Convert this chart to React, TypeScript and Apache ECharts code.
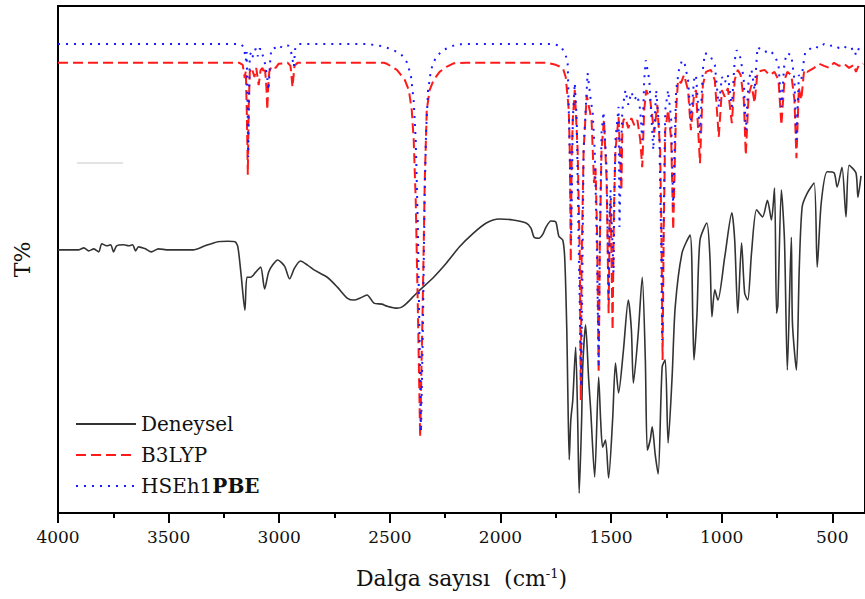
import React, { useEffect, useRef } from "react";
import * as echarts from "echarts";

// x: wavenumber (cm-1), y: transmittance (arbitrary T% scale, 0 = bottom axis, 100 = top frame)
const majorTicks = [4000, 3500, 3000, 2500, 2000, 1500, 1000, 500];
const minorTicks = [3750, 3250, 2750, 2250, 1750, 1250, 750];
const seriesNames = ["Deneysel", "B3LYP", "HSEh1PBE"];

const deneysel: [number, number][] = [
  [4000, 51.9], [3906, 51.9], [3883, 52.3], [3861, 51.7], [3838, 52.1], [3816, 51.5], [3802, 53.1], [3780, 52.7],
  [3762, 52.9], [3749, 51.5], [3735, 52.7], [3703, 52.9], [3681, 52.7], [3663, 52.9], [3649, 51.7], [3636, 52.5],
  [3605, 52.1], [3578, 51.5], [3546, 52.1], [3501, 51.9], [3434, 51.9], [3389, 51.9], [3335, 52.7], [3277, 53.5],
  [3232, 53.6], [3200, 53.5], [3187, 52.5], [3173, 47.3], [3155, 40.0], [3146, 46.5], [3129, 46.5], [3106, 47.5],
  [3084, 48.5], [3066, 44.2], [3048, 47.5], [3030, 48.9], [3007, 49.9], [2976, 48.7], [2953, 46.2], [2931, 48.3],
  [2904, 49.7], [2872, 48.9], [2841, 47.9], [2783, 46.5], [2738, 44.6], [2693, 42.4], [2661, 42.0], [2634, 42.4],
  [2603, 43.0], [2572, 41.4], [2536, 41.2], [2513, 40.8], [2468, 40.4], [2446, 40.6], [2423, 41.4], [2378, 43.4],
  [2302, 46.5], [2244, 49.3], [2185, 52.5], [2122, 55.2], [2064, 57.2], [2006, 58.0], [1943, 57.8], [1884, 57.2],
  [1862, 56.2], [1848, 54.4], [1826, 54.2], [1808, 55.0], [1794, 56.4], [1772, 57.6], [1750, 57.4], [1736, 54.6],
  [1718, 53.8], [1709, 49.9], [1700, 36.1], [1696, 25.6], [1689, 10.5], [1682, 18.3], [1673, 22.3], [1660, 32.7],
  [1651, 18.9], [1644, 3.9], [1633, 18.3], [1628, 28.8], [1615, 37.1], [1601, 26.2], [1592, 20.3], [1574, 7.1],
  [1556, 26.8], [1547, 18.3], [1538, 13.0], [1525, 14.4], [1511, 6.9], [1493, 18.3], [1480, 29.6], [1466, 23.7],
  [1444, 32.1], [1422, 42.0], [1408, 36.1], [1399, 25.6], [1377, 35.5], [1359, 46.5], [1345, 30.2], [1336, 12.4],
  [1323, 14.4], [1314, 17.0], [1300, 11.4], [1287, 7.7], [1269, 28.8], [1255, 30.2], [1242, 13.8], [1224, 26.8],
  [1210, 40.6], [1179, 51.3], [1143, 54.8], [1130, 37.5], [1125, 30.2], [1112, 38.7], [1098, 53.8], [1067, 57.2],
  [1053, 50.5], [1044, 38.7], [1031, 44.0], [1017, 42.0], [986, 50.5], [954, 59.2], [941, 53.8], [927, 39.4],
  [910, 53.3], [896, 43.4], [882, 42.0], [865, 51.3], [842, 59.8], [815, 58.4], [793, 61.7], [775, 57.8],
  [761, 64.1], [752, 39.4], [746, 41.0], [730, 63.7], [716, 53.8], [703, 28.2], [685, 54.4], [680, 37.5],
  [662, 28.2], [649, 48.5], [636, 60.4], [613, 63.1], [582, 65.1], [568, 48.5], [550, 61.1], [523, 67.3],
  [492, 67.1], [478, 64.3], [456, 68.2], [438, 58.4], [424, 68.6], [393, 67.1], [384, 62.3], [370, 66.5],
];

const b3lyp: [number, number][] = [
  [4000, 88.8], [3180, 88.8], [3165, 88.4], [3156, 85.8], [3151, 87.2], [3146, 78], [3142, 66.7], [3138, 80],
  [3133, 87.0], [3124, 87.8], [3112, 86.0], [3104, 87.8], [3093, 84.4], [3084, 87.4], [3075, 87.8], [3070, 86.6],
  [3064, 87.4], [3058, 84], [3054, 79.5], [3050, 84], [3045, 87.0], [3034, 88.2], [3016, 87.8], [3003, 88.6],
  [2962, 88.8], [2949, 88.2], [2940, 84.0], [2931, 88.2], [2917, 88.8],
  [2527, 88.8], [2513, 88.6], [2468, 87.4], [2432, 85.4], [2414, 83.4], [2401, 79.5], [2392, 73.6], [2383, 61.7],
  [2374, 42.0], [2363, 15.0], [2351, 42.0], [2342, 65.7], [2333, 79.5], [2320, 83.4], [2302, 85.4], [2275, 87.0],
  [2244, 88.0], [2212, 88.7], [2154, 88.8],
  [1790, 88.8], [1750, 88.4], [1718, 87.8], [1705, 86.0], [1691, 79.5], [1686, 70], [1682, 49.5], [1678, 70],
  [1673, 77.5], [1664, 83.4], [1651, 71.6], [1641, 50], [1637, 22.3], [1633, 50], [1624, 71.6], [1610, 82.4],
  [1588, 77.5], [1577, 65.1], [1570, 68.0], [1563, 55], [1556, 27.6], [1550, 55], [1543, 71.6], [1532, 77.5],
  [1520, 65.7], [1511, 39.4], [1506, 58], [1502, 61.7], [1493, 36.1], [1487, 60], [1480, 71.6], [1466, 78.1],
  [1453, 63.7], [1449, 75.5], [1444, 77.5], [1435, 77.9], [1422, 75.9], [1408, 77.9], [1395, 76.5], [1381, 77.5],
  [1368, 73.6], [1359, 68.2], [1350, 79.5], [1341, 83.4], [1323, 81.5], [1305, 75.0], [1291, 80.5], [1278, 71.6],
  [1272, 55], [1267, 30.2], [1262, 55], [1255, 75.5], [1242, 79.5], [1228, 73.6], [1219, 55.8], [1206, 79.5],
  [1197, 85.4], [1184, 84.8], [1170, 86.4], [1152, 83.4], [1139, 75.5], [1125, 82.4], [1116, 83.4], [1098, 69.0],
  [1085, 84.4], [1071, 87.0], [1049, 87.4], [1031, 85.4], [1013, 74.2], [999, 83.4], [986, 82.1], [972, 83.8],
  [954, 76.9], [941, 85.4], [927, 87.4], [914, 86.4], [900, 81.5], [891, 70.6], [878, 82.4], [865, 84.4],
  [851, 80.9], [838, 87.0], [806, 87.4], [784, 86.4], [761, 87.0], [743, 85.4], [730, 76.5], [716, 85.4],
  [703, 87.0], [685, 86.4], [671, 81.5], [662, 70.0], [651, 83.8], [640, 81.5], [627, 87.4], [613, 87.0],
  [582, 87.8], [559, 88.6], [537, 88.2], [514, 87.8], [492, 88.8], [469, 88.2], [447, 88.6], [424, 87.8],
  [402, 88.4], [393, 87.0], [379, 88.4], [360, 88.6],
];

const hseh1pbe: [number, number][] = [
  [4000, 92.5], [3175, 92.5], [3160, 91.9], [3151, 89.3], [3147, 90.9], [3143, 80], [3140, 70.2], [3137, 80],
  [3133, 90.3], [3126, 90.9], [3120, 89.9], [3115, 91.3], [3105, 91.5], [3097, 90.1], [3090, 91.5], [3080, 91.5],
  [3075, 90.3], [3068, 89.5], [3056, 86.5], [3048, 83.4], [3042, 88.5], [3036, 91.5], [3000, 92.0], [2994, 91.7],
  [2988, 92.2], [2960, 92.2], [2948, 91.3], [2940, 89.5], [2934, 88.0], [2928, 91.5], [2915, 92.5],
  [2603, 92.5], [2536, 92.1], [2482, 91.3], [2446, 90.3], [2423, 88.9], [2405, 86.4], [2392, 81.2], [2383, 73.6],
  [2374, 57.8], [2367, 38.1], [2359, 16.0], [2350, 38.1], [2343, 61.7], [2336, 75.5], [2327, 83.4], [2314, 87.4],
  [2292, 89.9], [2260, 91.3], [2200, 92.4], [2150, 92.5],
  [1760, 92.5], [1727, 92.1], [1705, 90.3], [1696, 88.8], [1687, 71.6], [1680, 53.8], [1675, 70], [1673, 77.5],
  [1664, 84.8], [1655, 77.5], [1646, 51.9], [1641, 40], [1635, 24.9], [1630, 45], [1624, 71.6], [1606, 86.8],
  [1592, 81.5], [1583, 79.0], [1574, 71.6], [1565, 55], [1556, 28.8], [1550, 55], [1543, 75.0], [1534, 79.1],
  [1520, 68.0], [1511, 42.0], [1506, 60], [1502, 63.7], [1489, 47.3], [1484, 65], [1480, 73.6], [1466, 80.1],
  [1462, 56.4], [1453, 74], [1449, 79.5], [1435, 83.4], [1422, 80.5], [1408, 83.0], [1395, 81.5], [1381, 82.4],
  [1368, 79.5], [1359, 73.6], [1350, 85.4], [1343, 89.3], [1327, 85.4], [1309, 71.6], [1296, 83.4], [1282, 75.5],
  [1274, 55], [1269, 34.1], [1263, 55], [1255, 79.5], [1242, 83.4], [1228, 77.5], [1219, 60.4], [1206, 83.4],
  [1193, 87.4], [1179, 89.3], [1166, 88.4], [1152, 85.4], [1139, 77.5], [1125, 85.4], [1116, 86.4], [1098, 75.0],
  [1085, 87.4], [1076, 90.7], [1053, 90.3], [1031, 88.4], [1013, 80.1], [999, 86.0], [986, 84.8], [972, 86.4],
  [954, 80.1], [941, 89.3], [932, 91.3], [914, 89.7], [900, 85.4], [891, 75.5], [878, 85.4], [865, 87.4],
  [851, 83.4], [838, 91.9], [806, 90.9], [784, 91.3], [761, 90.3], [743, 88.4], [730, 80.1], [716, 89.0],
  [703, 90.7], [685, 90.3], [671, 85.4], [662, 73.6], [651, 86.4], [640, 85.4], [627, 89.7], [622, 90.9],
  [582, 92.1], [559, 91.7], [537, 92.5], [514, 92.1], [492, 92.3], [469, 91.7], [447, 92.1], [424, 91.3],
  [402, 91.7], [393, 90.3], [379, 91.7], [360, 92.0],
];

const serif = "DejaVu Serif";

export default function App() {
  const ref = useRef<HTMLDivElement>(null);
  useEffect(() => {
    if (!ref.current) return;
    const chart = echarts.init(ref.current, null, { renderer: "svg" });
    const axisLineStyle = { color: "#000", width: 2 };
    chart.setOption({
      animation: false,
      backgroundColor: "#fff",
      textStyle: { fontFamily: serif },
      grid: { left: 58, width: 813, top: 6, bottom: 86, show: true, borderColor: "#000", borderWidth: 2, backgroundColor: "transparent" },
      legend: {
        orient: "vertical",
        left: 70,
        top: 409,
        itemWidth: 60,
        itemHeight: 24,
        itemGap: 11,
        data: seriesNames,
        itemStyle: { opacity: 0, borderWidth: 0 },
        formatter: (name: string) => (name === "HSEh1PBE" ? "{r|HSEh1}{b|PBE}" : name),
        textStyle: {
          fontFamily: serif,
          fontSize: 20,
          color: "#111",
          rich: {
            r: { fontFamily: serif, fontSize: 20, color: "#111" },
            b: { fontFamily: serif, fontSize: 20, color: "#111", fontWeight: "bold" },
          },
        },
      },
      xAxis: [
        {
          type: "value",
          min: 352,
          max: 4000,
          inverse: true,
          position: "bottom",
          offset: 0,
          axisLine: { show: true, lineStyle: axisLineStyle },
          axisTick: { show: true, inside: false, length: 10, lineStyle: axisLineStyle, customValues: majorTicks },
          axisLabel: {
            show: true,
            customValues: majorTicks,
            formatter: (v: number) => String(v),
            fontFamily: serif,
            fontSize: 17,
            color: "#111",
            margin: 15,
          },
          splitLine: { show: false },
          name: "{a|Dalga sayısı  (cm}{s|-1}{a|)}",
          nameLocation: "middle",
          nameGap: 54,
          nameTextStyle: {
            fontFamily: serif,
            rich: {
              a: { fontFamily: serif, fontSize: 22, color: "#111" },
              s: { fontFamily: serif, fontSize: 13, color: "#111", verticalAlign: "top" },
            },
          },
        },
        {
          type: "value",
          min: 352,
          max: 4000,
          inverse: true,
          position: "bottom",
          offset: 0,
          axisLine: { show: false },
          axisTick: { show: true, inside: false, length: 5, lineStyle: axisLineStyle, customValues: minorTicks },
          axisLabel: { show: false },
          splitLine: { show: false },
        },
      ],
      yAxis: {
        type: "value",
        min: 0,
        max: 100,
        axisLine: { show: true, lineStyle: axisLineStyle },
        axisTick: { show: false },
        axisLabel: { show: false },
        splitLine: { show: false },
        name: "T%",
        nameLocation: "middle",
        nameRotate: 90,
        nameGap: 25,
        nameTextStyle: { fontFamily: serif, fontSize: 22, color: "#111" },
      },
      series: [
        {
          name: "Deneysel",
          type: "line",
          data: deneysel,
          symbol: "none",
          showSymbol: false,
          smooth: 0.25,
          lineStyle: { color: "#333", width: 1.6 },
          itemStyle: { color: "#333" },
        },
        {
          name: "B3LYP",
          type: "line",
          data: b3lyp,
          symbol: "none",
          showSymbol: false,
          lineStyle: { color: "#ff1a1a", width: 2, type: [10, 5] },
          itemStyle: { color: "#ff1a1a" },
        },
        {
          name: "HSEh1PBE",
          type: "line",
          data: hseh1pbe,
          symbol: "none",
          showSymbol: false,
          lineStyle: { color: "#1a1aff", width: 2, type: [2, 6] },
          itemStyle: { color: "#1a1aff" },
        },
      ],
      graphic: [
        { type: "line", shape: { x1: 77, y1: 163, x2: 123, y2: 163 }, style: { stroke: "#c8c8c8", lineWidth: 1 }, silent: true },
      ],
    });
    return () => chart.dispose();
  }, []);
  return <div ref={ref} style={{ position: "absolute", left: 0, top: 0, width: 865, height: 599 }} />;
}
